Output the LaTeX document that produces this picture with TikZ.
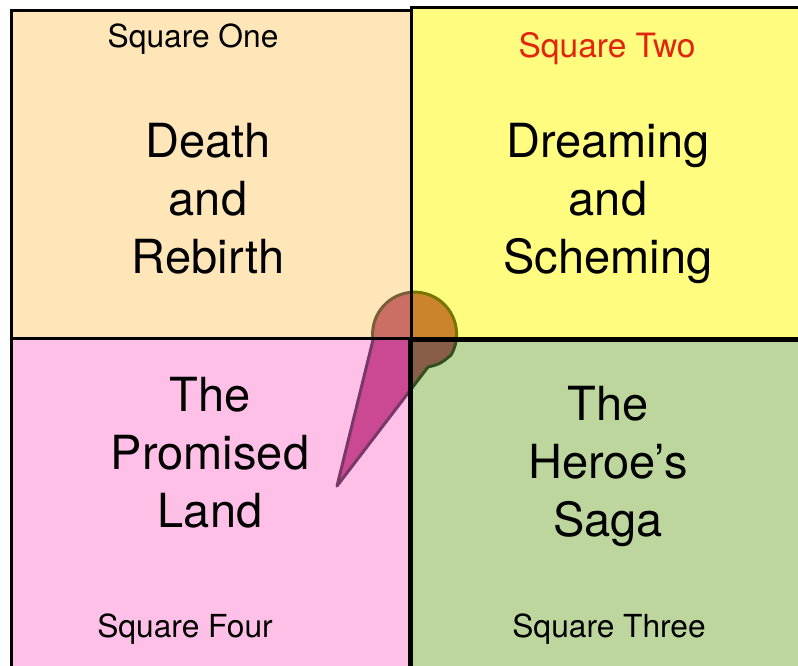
\documentclass[tikz,border=0pt]{standalone}
\usepackage{fontspec}
\setmainfont{TeX Gyre Heros}

\definecolor{peach}{RGB}{255,230,185}
\definecolor{lemon}{RGB}{255,252,128}
\definecolor{blush}{RGB}{255,192,232}
\definecolor{sage}{RGB}{188,214,158}
\definecolor{tomato}{RGB}{226,38,14}
% bubble as it shows over each square
\definecolor{bubpeach}{RGB}{203,110,100}
\definecolor{bublemon}{RGB}{203,132,43}
\definecolor{bubblush}{RGB}{203,72,147}
\definecolor{bubsage}{RGB}{136,94,73}
\definecolor{rimpeach}{RGB}{120,95,57}
\definecolor{rimlemon}{RGB}{120,117,0}
\definecolor{rimblush}{RGB}{120,57,104}
\definecolor{rimsage}{RGB}{53,79,30}

\begin{document}
\begin{tikzpicture}[x=1pt,y=-1pt]

      \tikzset{
        border/.style={draw=black, line width=3pt},
        bubble/.style={line width=3pt, line join=round,
          insert path={(337,486) -- (373,340)
            arc[start angle=172, end angle=390, radius=42]
            .. controls (440,364) .. (428,367) -- cycle}},
        tag/.style={font=\fontsize{31.7}{38}\selectfont, anchor=base},
        title/.style={font=\fontsize{47}{58}\selectfont, align=center, anchor=base}
      }

      \useasboundingbox (0,0) rectangle (798,665);
      \clip (0,0) rectangle (798,665);

      % the four squares
      \fill[peach] (11,10)   rectangle (411,338);
      \fill[lemon] (411,7)   rectangle (805,338);
      \fill[blush] (11,338)  rectangle (409,670);
      \fill[sage]  (411,340) rectangle (805,670);

      % the bubble, square by square
      \begin{scope}
        \clip (0,0) rectangle (411,338);
        \filldraw[bubble, fill=bubpeach, draw=rimpeach];
      \end{scope}
      \begin{scope}
        \clip (411,0) rectangle (798,338);
        \filldraw[bubble, fill=bublemon, draw=rimlemon];
      \end{scope}
      \begin{scope}
        \clip (0,338) rectangle (410,665);
        \filldraw[bubble, fill=bubblush, draw=rimblush];
      \end{scope}
      \begin{scope}
        \clip (410,338) rectangle (798,665);
        \filldraw[bubble, fill=bubsage, draw=rimsage];
      \end{scope}

      \begin{scope}[every path/.style={border}]
        \draw (11,10)   rectangle (411,338);
        \draw (411,7)   rectangle (805,338);
        \draw (11,338)  rectangle (409,670);
        \draw (411,340) rectangle (805,670);
      \end{scope}

      \begin{scope}[every node/.style={tag}]
        \node (one)   at (193,47)  {Square One};
        \node[text=tomato, font=\fontsize{33.5}{40}\selectfont] (two) at (607,57) {Square Two};
        \node (three) at (609,637) {Square Three};
        \node (four)  at (185,637) {Square Four};
      \end{scope}

      % base of each title sits on its last line
      \begin{scope}[every node/.style={title}]
        \node (death)    at (208,273) {Death\\and\\Rebirth};
        \node (dreaming) at (608,273) {Dreaming\\and\\Scheming};
        \node (saga)     at (608,536) {The\\Heroe’s\\Saga};
        \node (land)     at (210,527) {The\\Promised\\Land};
      \end{scope}

    \end{tikzpicture}
\end{document}
